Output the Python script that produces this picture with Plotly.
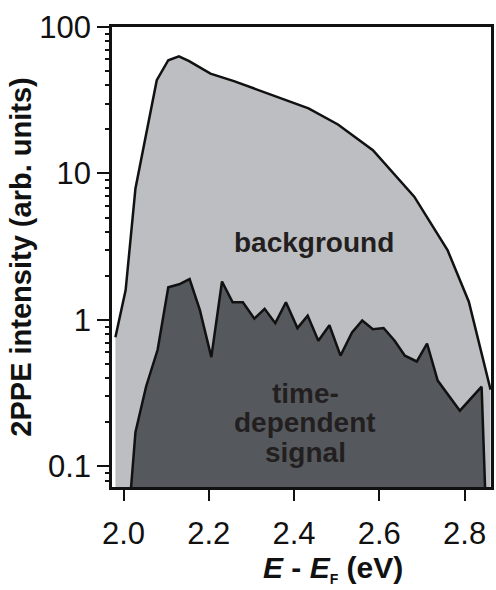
import plotly.graph_objects as go

# Background spectrum (E - E_F in eV, intensity arb. units)
bg_energy = [1.981, 2.005, 2.028, 2.078, 2.105, 2.130, 2.154, 2.204, 2.259, 2.340,
             2.434, 2.503, 2.585, 2.682, 2.760, 2.810, 2.861]
bg_intensity = [0.76, 1.6, 7.9, 43.3, 59.3, 63.0, 58.4, 48.0, 42.7, 35.2,
                27.8, 21.6, 14.4, 6.94, 3.0, 1.33, 0.334]

# Time-dependent signal
sig_energy = [2.0156, 2.028, 2.053, 2.080, 2.105, 2.1305, 2.155, 2.179, 2.206, 2.231,
              2.256, 2.280, 2.307, 2.331, 2.356, 2.381, 2.408, 2.432, 2.457, 2.483,
              2.509, 2.536, 2.560, 2.585, 2.610, 2.636, 2.660, 2.688, 2.712, 2.737,
              2.789, 2.840, 2.849]
sig_intensity = [0.06, 0.171, 0.351, 0.625, 1.67, 1.75, 1.90, 1.17, 0.557, 1.83,
                 1.32, 1.32, 1.02, 1.19, 0.95, 1.32, 0.88, 1.07, 0.72, 0.92,
                 0.57, 0.82, 0.99, 0.865, 0.88, 0.72, 0.57, 0.52, 0.69, 0.385,
                 0.24, 0.35, 0.06]

x_tick_vals = [2.0, 2.2, 2.4, 2.6, 2.8]
x_tick_text = ["2.0", "2.2", "2.4", "2.6", "2.8"]
y_tick_vals = [0.1, 1, 10, 100]
y_tick_text = ["0.1", "1", "10", "100"]
y_minor_vals = [0.08, 0.09, 0.2, 0.3, 0.4, 0.5, 0.6, 0.7, 0.8, 0.9,
                2, 3, 4, 5, 6, 7, 8, 9, 20, 30, 40, 50, 60, 70, 80, 90]

label_bg = "background"
label_sig = ["time-", "dependent", "signal"]

FONT = "Arial, Liberation Sans, Helvetica, sans-serif"
TXT = "#231F20"
AX = "#111111"

fig = go.Figure()
fig.add_trace(go.Scatter(x=bg_energy, y=bg_intensity, mode="lines", fill="tozeroy",
                         fillcolor="#BDBEC1", line=dict(color=AX, width=2.5),
                         showlegend=False, hoverinfo="skip"))
fig.add_trace(go.Scatter(x=sig_energy, y=sig_intensity, mode="lines", fill="tozeroy",
                         fillcolor="#55595D", line=dict(color=AX, width=2.5),
                         showlegend=False, hoverinfo="skip"))
# invisible trace bound to the minor-tick axis
fig.add_trace(go.Scatter(x=[bg_energy[0]], y=[bg_intensity[0]], yaxis="y2", mode="lines",
                         line=dict(width=0), showlegend=False, hoverinfo="skip"))

fig.add_annotation(x=2.4476, y=0.526, xref="x", yref="y", text="<b>" + label_bg + "</b>",
                   showarrow=False, font=dict(family=FONT, size=28, color=TXT))
sig_y = [-0.50, -0.70, -0.905]
for t, yy in zip(label_sig, sig_y):
    fig.add_annotation(x=2.426, y=yy, xref="x", yref="y", text="<b>" + t + "</b>",
                       showarrow=False, font=dict(family=FONT, size=28, color=TXT))

fig.add_annotation(x=0.583, y=-0.178, xref="paper", yref="paper",
                   text="<b><i>E</i> - <i>E</i><sub><span style='font-size:14px'>F</span></sub> (eV)</b>",
                   showarrow=False, font=dict(family=FONT, size=30, color=AX),
                   yanchor="middle")

fig.update_xaxes(range=[1.973, 2.862], tickvals=x_tick_vals, ticktext=x_tick_text,
                 ticks="outside", ticklen=11, tickwidth=2, tickcolor=AX,
                 ticklabelstandoff=6,
                 showline=True, linecolor=AX, linewidth=2.5, mirror=True,
                 showgrid=False, zeroline=False,
                 tickfont=dict(family=FONT, size=31, color=AX))
fig.update_layout(
    yaxis=dict(type="log", range=[-1.141, 2.0], tickvals=y_tick_vals, ticktext=y_tick_text,
               ticks="outside", ticklen=12, tickwidth=2, tickcolor=AX,
               showline=True, linecolor=AX, linewidth=2.5, mirror=True,
               showgrid=False, zeroline=False,
               tickfont=dict(family=FONT, size=31, color=AX),
               title=dict(text="<b>2PPE intensity (arb. units)</b>", standoff=0,
                          font=dict(family=FONT, size=29, color=AX))),
    yaxis2=dict(type="log", range=[-1.141, 2.0], overlaying="y", side="left",
                tickvals=y_minor_vals, ticktext=[""] * len(y_minor_vals),
                ticks="outside", ticklen=6, tickwidth=2, tickcolor=AX,
                showline=False, showgrid=False, zeroline=False, fixedrange=True),
)

fig.update_layout(width=496, height=590, margin=dict(l=112, r=2, t=27, b=103),
                  plot_bgcolor="white", paper_bgcolor="white")

fig.write_html("out.html")
